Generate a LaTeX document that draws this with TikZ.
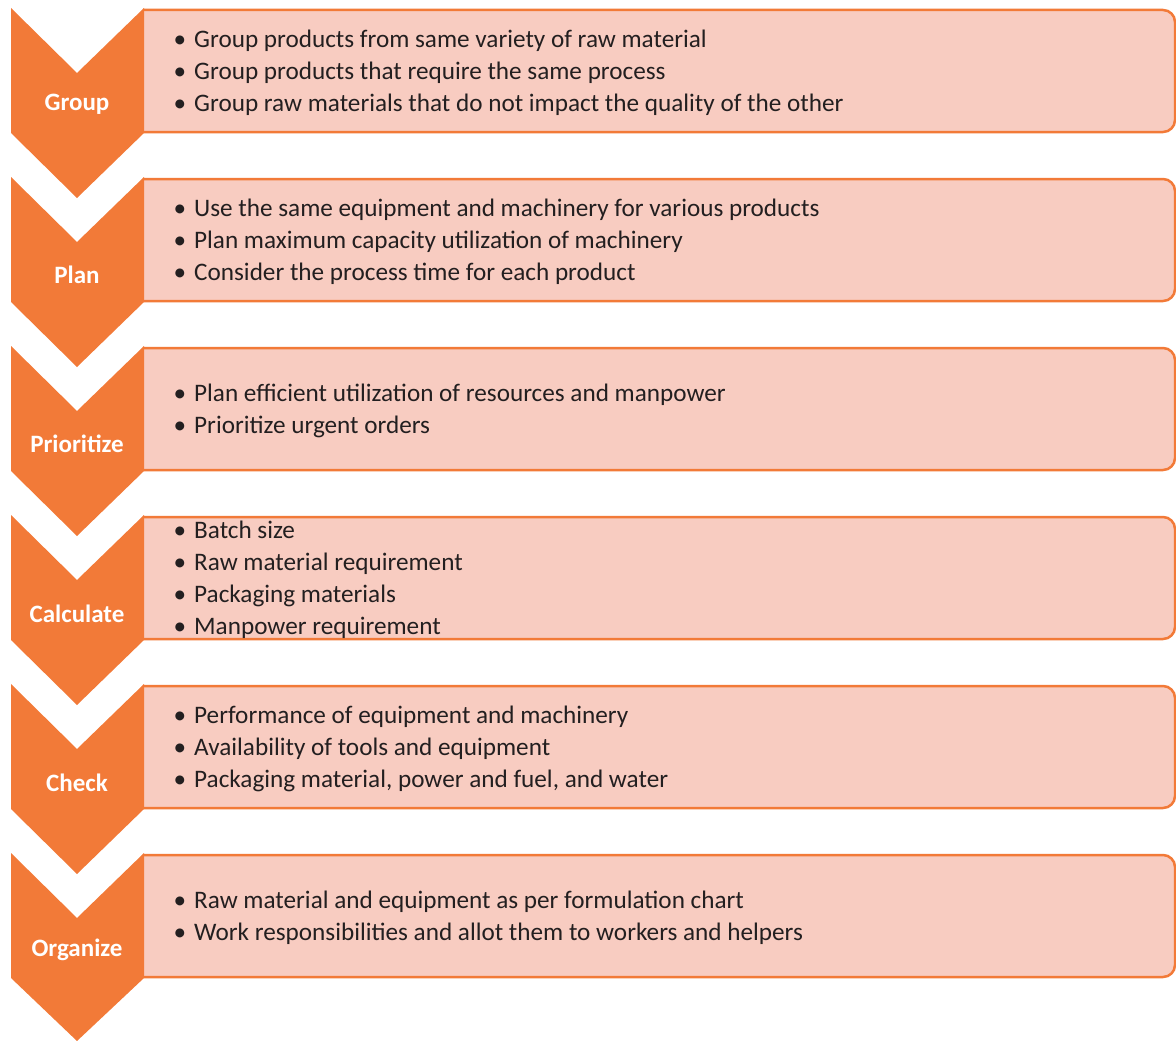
\documentclass[tikz,border=0pt]{standalone}
\usepackage{amsmath}
\usepackage{fontspec}
\setmainfont{Carlito}
\usepackage{tikz}

\definecolor{steporange}{RGB}{242,122,56}
\definecolor{steppink}{RGB}{248,204,193}
\definecolor{steptext}{RGB}{35,31,32}
\newcommand{\bul}{\makebox[19pt][l]{\hspace{-1.5pt}\textbullet}}

\begin{document}
\begin{tikzpicture}[x=1pt, y=-1pt,
    chevron/.style={fill=steporange},
    itembox/.style={draw=steporange, line width=2.5pt, fill=steppink, rounded corners=12pt},
    steplabel/.style={text=white, font=\fontsize{25}{29}\selectfont\bfseries},
    items/.style={anchor=west, inner sep=0pt, align=left, text=steptext,
        font=\fontsize{25.2}{32}\selectfont}]
    \useasboundingbox (0,0) rectangle (1176,1041);

    % boxes
    \filldraw [itembox] (143,10) -- (1175,10) -- (1175,132) -- (143,132);
    \filldraw [itembox] (143,179) -- (1175,179) -- (1175,301) -- (143,301);
    \filldraw [itembox] (143,348) -- (1175,348) -- (1175,470) -- (143,470);
    \filldraw [itembox] (143,517) -- (1175,517) -- (1175,639) -- (143,639);
    \filldraw [itembox] (143,686) -- (1175,686) -- (1175,808) -- (143,808);
    \filldraw [itembox] (143,855) -- (1175,855) -- (1175,977) -- (143,977);

    % chevrons
    \fill [chevron] (11,8) -- (77,73) -- (144,8) -- (144,133) -- (77,198) -- (11,133) -- cycle;
    \fill [chevron] (11,177) -- (77,242) -- (144,177) -- (144,302) -- (77,367) -- (11,302) -- cycle;
    \fill [chevron] (11,346) -- (77,411) -- (144,346) -- (144,471) -- (77,536) -- (11,471) -- cycle;
    \fill [chevron] (11,515) -- (77,580) -- (144,515) -- (144,640) -- (77,705) -- (11,640) -- cycle;
    \fill [chevron] (11,684) -- (77,749) -- (144,684) -- (144,809) -- (77,874) -- (11,809) -- cycle;
    \fill [chevron] (11,853) -- (77,918) -- (144,853) -- (144,978) -- (77,1041) -- (11,978) -- cycle;

    \node (group) at (77,104) [steplabel] {Group};
    \node (plan) at (77,275) [steplabel] {Plan};
    \node (prioritize) at (77,444) [steplabel] {Prioritize};
    \node (calculate) at (77,614) [steplabel] {Calculate};
    \node (check) at (77,783) [steplabel] {Check};
    \node (organize) at (77,950) [steplabel] {Organize};

    \node (grouplist) at (175,72.5) [items] {\bul Group products from same variety of raw material\\
        \bul Group products that require the same process\\
        \bul Group raw materials that do not impact the quality of the other};
    \node (planlist) at (175,241.5) [items] {\bul Use the same equipment and machinery for various products\\
        \bul Plan maximum capacity utilization of machinery\\
        \bul Consider the process time for each product};
    \node (prioritizelist) at (175,410.5) [items] {\bul Plan efficient utilization of resources and manpower\\
        \bul Prioritize urgent orders};
    \node (calculatelist) at (175,579.5) [items] {\bul Batch size\\
        \bul Raw material requirement\\
        \bul Packaging materials\\
        \bul Manpower requirement};
    \node (checklist) at (175,748.5) [items] {\bul Performance of equipment and machinery\\
        \bul Availability of tools and equipment\\
        \bul Packaging material, power and fuel, and water};
    \node (organizelist) at (175,917.5) [items] {\bul Raw material and equipment as per formulation chart\\
        \bul Work responsibilities and allot them to workers and helpers};
\end{tikzpicture}
\end{document}
